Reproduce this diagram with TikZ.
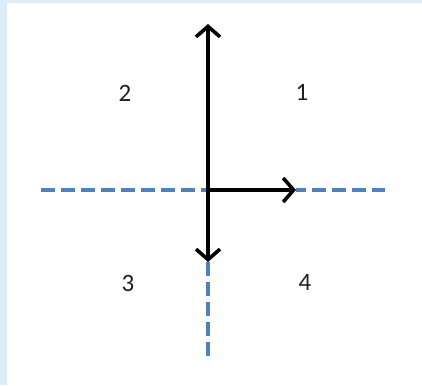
\documentclass[tikz,border=0pt]{standalone}
\usepackage{fontspec}
\setmainfont{Carlito}
\usetikzlibrary{arrows.meta}
\definecolor{bgblue}{HTML}{DCEDF8}
\definecolor{dashblue}{HTML}{4F81BD}
\definecolor{numcol}{HTML}{202020}
\tikzset{
  axisarrow/.style={line width=3.6pt, draw=black, -{Straight Barb[length=10.5pt,width=24pt,line width=3.6pt]}},
  dashline/.style={line width=3.3pt, draw=dashblue, dash pattern=on 14pt off 6pt},
  numlabel/.style={font=\fontsize{25}{29}\selectfont, text=numcol, inner sep=0pt}
}
\begin{document}
\begin{tikzpicture}[x=1pt,y=1pt]
\useasboundingbox (0,0) rectangle (422,385);
\fill[bgblue] (0,0) rectangle (422,385);
\fill[white] (7,0) rectangle (422,382);
\coordinate (O) at (208,195);
\coordinate (L) at (41,195);
\coordinate (R) at (385,195);
\coordinate (Up) at (208,361);
\coordinate (Rt) at (296,195);
\coordinate (Dn) at (208,123);
\coordinate (B) at (208,29);
\draw[dashline] (L) -- (O);
\draw[dashline, dash phase=4pt] (Rt) -- (R);
\draw[dashline] (Dn) -- (B);
\draw[axisarrow] (O) -- (Rt);
\draw[axisarrow] (O) -- (Dn);
\draw[axisarrow] ([yshift=-2pt]O) -- (Up);
\node[numlabel] (n2) at (125,292) {2};
\node[numlabel] (n1) at (302,293) {1};
\node[numlabel] (n3) at (128,102) {3};
\node[numlabel] (n4) at (305,103) {4};
\end{tikzpicture}
\end{document}
